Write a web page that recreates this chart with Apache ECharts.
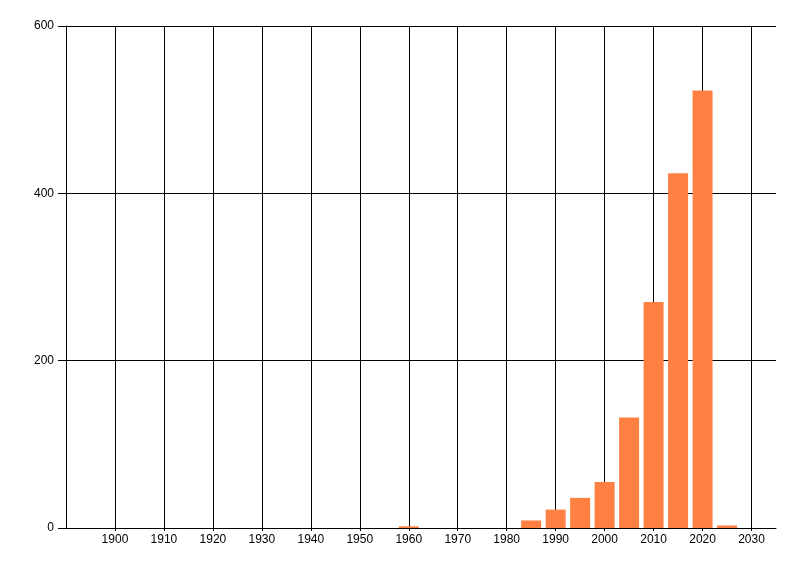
<!DOCTYPE html>
<html>
<head>
<meta charset="utf-8">
<script src="https://cdn.jsdelivr.net/npm/echarts@6/dist/echarts.min.js"></script>
<style>
  html, body { margin: 0; padding: 0; background: #fff; }
  #chart { width: 800px; height: 576px; }
</style>
</head>
<body>
<div id="chart"></div>
<script>
  var years = [1960, 1985, 1990, 1995, 2000, 2005, 2010, 2015, 2020, 2025];
  var counts = [2, 9, 22, 36, 55, 132, 270, 424, 523, 3];
  var yTicks = [0, 200, 400, 600];

  var chartDom = document.getElementById('chart');
  var myChart = echarts.init(chartDom, null, { renderer: 'canvas' });

  var lineStyle = { color: '#000', width: 1 };
  var labelFont = { color: '#000', fontFamily: 'Liberation Sans', fontSize: 12 };

  var option = {
    animation: false,
    grid: { left: 66, right: 24, top: 26, bottom: 48 },
    xAxis: {
      type: 'value',
      min: 1890,
      max: 2035,
      interval: 10,
      axisLine: { show: true, lineStyle: lineStyle },
      axisTick: { show: true, length: 3, lineStyle: lineStyle },
      axisLabel: Object.assign({
        margin: 6, showMinLabel: false, showMaxLabel: false,
        formatter: function (v) { return String(v); }
      }, labelFont),
      splitLine: { show: true, showMinLine: false, showMaxLine: false, lineStyle: lineStyle }
    },
    yAxis: {
      type: 'value',
      min: yTicks[0],
      max: yTicks[yTicks.length - 1],
      interval: 200,
      axisLine: { show: true, lineStyle: lineStyle },
      axisTick: { show: true, length: 8, lineStyle: lineStyle },
      axisLabel: Object.assign({ margin: 12 }, labelFont),
      splitLine: { show: true, lineStyle: lineStyle }
    },
    series: [{
      type: 'bar',
      barWidth: 20,
      itemStyle: { color: '#FF8042' },
      data: years.map(function (y, i) { return [y, counts[i]]; })
    }]
  };

  myChart.setOption(option);
  window.addEventListener('resize', myChart.resize);
</script>
</body>
</html>
